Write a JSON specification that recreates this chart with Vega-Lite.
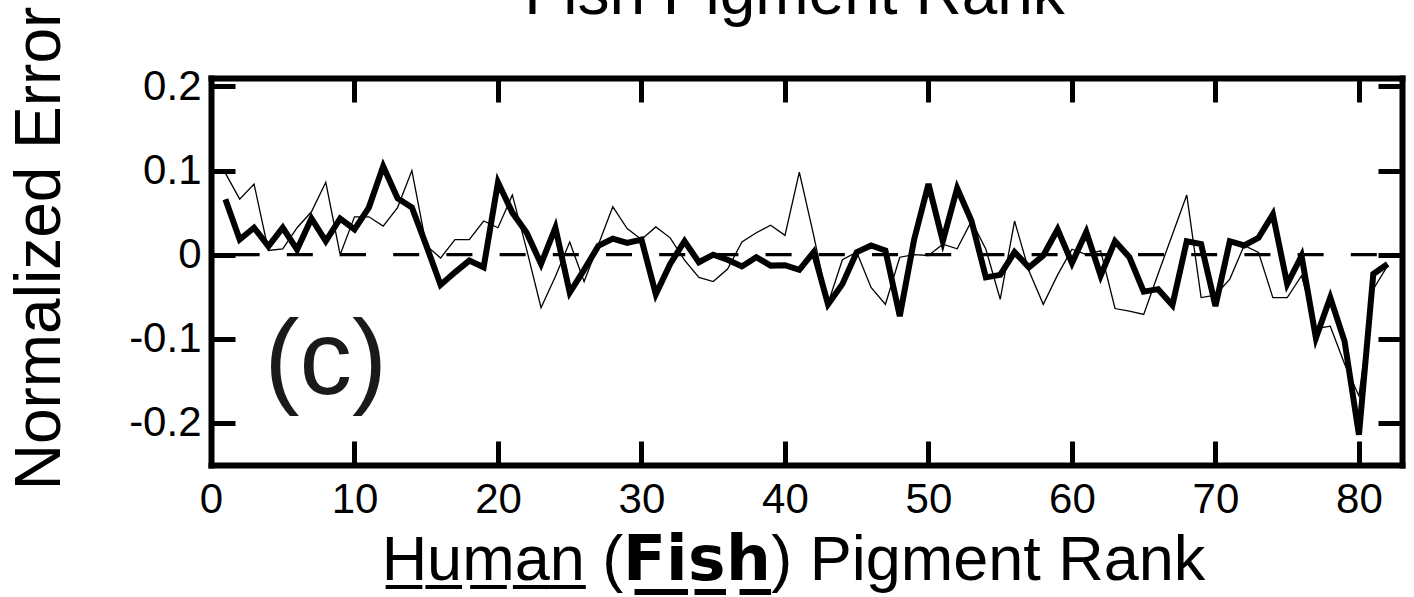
{
  "$schema": "https://vega.github.io/schema/vega-lite/v6.json",
  "width": 1191,
  "height": 387,
  "autosize": {"type": "none"},
  "padding": {"left": 211, "top": 78, "right": 12, "bottom": 132},
  "background": "white",
  "config": {
    "view": {"stroke": null},
    "font": "Liberation Sans",
    "axis": {
      "domainColor": "black", "domainWidth": 6, "domainCap": "square",
      "tickColor": "black", "tickWidth": 5, "tickSize": -24,
      "labelFontSize": 42, "labelColor": "black", "labelFont": "Liberation Sans",
      "labelFlush": false, "labelBound": false, "labelOverlap": false,
      "grid": false,
      "titleFont": "Liberation Sans", "titleFontWeight": "normal", "titleColor": "black"
    }
  },
  "title": {"text": "Fish Pigment Rank", "fontSize": 64, "fontWeight": "normal", "font": "Liberation Sans", "color": "black", "baseline": "alphabetic", "offset": 0, "dy": 72, "anchor": "middle", "dx": -12},
  "data": {"values": [
    {"rank": 1, "human": 0.097, "fish": 0.066},
    {"rank": 2, "human": 0.066, "fish": 0.018},
    {"rank": 3, "human": 0.084, "fish": 0.032},
    {"rank": 4, "human": 0.005, "fish": 0.010},
    {"rank": 5, "human": 0.007, "fish": 0.032},
    {"rank": 6, "human": 0.032, "fish": 0.006},
    {"rank": 7, "human": 0.051, "fish": 0.043},
    {"rank": 8, "human": 0.086, "fish": 0.016},
    {"rank": 9, "human": 0.000, "fish": 0.043},
    {"rank": 10, "human": 0.045, "fish": 0.030},
    {"rank": 11, "human": 0.045, "fish": 0.056},
    {"rank": 12, "human": 0.034, "fish": 0.105},
    {"rank": 13, "human": 0.056, "fish": 0.067},
    {"rank": 14, "human": 0.100, "fish": 0.056},
    {"rank": 15, "human": 0.011, "fish": 0.011},
    {"rank": 16, "human": -0.004, "fish": -0.036},
    {"rank": 17, "human": 0.018, "fish": -0.021},
    {"rank": 18, "human": 0.018, "fish": -0.007},
    {"rank": 19, "human": 0.040, "fish": -0.015},
    {"rank": 20, "human": 0.032, "fish": 0.086},
    {"rank": 21, "human": 0.071, "fish": 0.050},
    {"rank": 22, "human": 0.006, "fish": 0.026},
    {"rank": 23, "human": -0.063, "fish": -0.011},
    {"rank": 24, "human": -0.026, "fish": 0.032},
    {"rank": 25, "human": 0.015, "fish": -0.045},
    {"rank": 26, "human": -0.032, "fish": -0.018},
    {"rank": 27, "human": 0.012, "fish": 0.0105},
    {"rank": 28, "human": 0.057, "fish": 0.019},
    {"rank": 29, "human": 0.031, "fish": 0.014},
    {"rank": 30, "human": 0.018, "fish": 0.018},
    {"rank": 31, "human": 0.033, "fish": -0.047},
    {"rank": 32, "human": 0.020, "fish": -0.011},
    {"rank": 33, "human": -0.0065, "fish": 0.016},
    {"rank": 34, "human": -0.027, "fish": -0.009},
    {"rank": 35, "human": -0.032, "fish": 0.000},
    {"rank": 36, "human": -0.017, "fish": -0.006},
    {"rank": 37, "human": 0.015, "fish": -0.014},
    {"rank": 38, "human": 0.026, "fish": -0.003},
    {"rank": 39, "human": 0.035, "fish": -0.013},
    {"rank": 40, "human": 0.023, "fish": -0.0125},
    {"rank": 41, "human": 0.098, "fish": -0.018},
    {"rank": 42, "human": 0.023, "fish": 0.003},
    {"rank": 43, "human": -0.058, "fish": -0.059},
    {"rank": 44, "human": -0.006, "fish": -0.035},
    {"rank": 45, "human": 0.003, "fish": 0.003},
    {"rank": 46, "human": -0.039, "fish": 0.011},
    {"rank": 47, "human": -0.059, "fish": 0.005},
    {"rank": 48, "human": -0.003, "fish": -0.073},
    {"rank": 49, "human": 0.000, "fish": 0.018},
    {"rank": 50, "human": -0.001, "fish": 0.084},
    {"rank": 51, "human": 0.0125, "fish": 0.016},
    {"rank": 52, "human": 0.007, "fish": 0.079},
    {"rank": 53, "human": 0.040, "fish": 0.040},
    {"rank": 54, "human": 0.0065, "fish": -0.027},
    {"rank": 55, "human": -0.053, "fish": -0.024},
    {"rank": 56, "human": 0.040, "fish": 0.003},
    {"rank": 57, "human": -0.019, "fish": -0.015},
    {"rank": 58, "human": -0.059, "fish": -0.001},
    {"rank": 59, "human": -0.024, "fish": 0.030},
    {"rank": 60, "human": 0.0065, "fish": -0.010},
    {"rank": 61, "human": 0.000, "fish": 0.027},
    {"rank": 62, "human": 0.0045, "fish": -0.025},
    {"rank": 63, "human": -0.064, "fish": 0.016},
    {"rank": 64, "human": -0.067, "fish": -0.003},
    {"rank": 65, "human": -0.071, "fish": -0.044},
    {"rank": 66, "human": -0.023, "fish": -0.041},
    {"rank": 67, "human": 0.024, "fish": -0.060},
    {"rank": 68, "human": 0.071, "fish": 0.016},
    {"rank": 69, "human": -0.051, "fish": 0.0125},
    {"rank": 70, "human": -0.048, "fish": -0.061},
    {"rank": 71, "human": -0.029, "fish": 0.016},
    {"rank": 72, "human": 0.011, "fish": 0.011},
    {"rank": 73, "human": 0.0026, "fish": 0.020},
    {"rank": 74, "human": -0.051, "fish": 0.048},
    {"rank": 75, "human": -0.051, "fish": -0.035},
    {"rank": 76, "human": -0.025, "fish": -0.0015},
    {"rank": 77, "human": -0.088, "fish": -0.099},
    {"rank": 78, "human": -0.085, "fish": -0.051},
    {"rank": 79, "human": -0.130, "fish": -0.103},
    {"rank": 80, "human": -0.168, "fish": -0.214},
    {"rank": 81, "human": -0.041, "fish": -0.023},
    {"rank": 82, "human": -0.013, "fish": -0.011}
  ]},
  "layer": [
    {
      "data": {"values": [{"ref": 0}]},
      "mark": {"type": "rule", "color": "black", "strokeWidth": 3.3, "strokeDash": [26, 27.2], "strokeDashOffset": 28},
      "encoding": {
        "y": {"field": "ref", "type": "quantitative", "axis": null, "scale": {"domain": [-0.25, 0.21], "nice": false, "zero": false}}
      }
    },
    {
      "mark": {"type": "line", "color": "black", "strokeWidth": 1.3},
      "encoding": {
        "x": {"field": "rank", "type": "quantitative",
              "scale": {"domain": [0, 83], "nice": false, "zero": false},
              "axis": {"orient": "bottom", "values": [0, 10, 20, 30, 40, 50, 60, 70, 80], "labelPadding": 38,
                       "title": "H̲u̲m̲a̲n̲ (𝗙̲𝗶̲𝘀̲𝗵̲) Pigment Rank", "titleFontSize": 63,
                       "titleX": 582, "titleY": 114, "titleBaseline": "alphabetic", "titleAlign": "center", "titleAnchor": null}},
        "y": {"field": "human", "type": "quantitative",
              "scale": {"domain": [-0.25, 0.21], "nice": false, "zero": false},
              "axis": {"orient": "left", "values": [-0.2, -0.1, 0, 0.1, 0.2], "labelPadding": 34,
                       "labelExpr": "datum.value == 0 ? '0' : (datum.value < 0 ? '-' + format(-datum.value, '.1f') : format(datum.value, '.1f'))",
                       "title": "Normalized Error", "titleFontSize": 64, "titleAngle": -90,
                       "titleX": -152, "titleY": 170, "titleBaseline": "alphabetic", "titleAlign": "center"}}
      }
    },
    {
      "mark": {"type": "line", "color": "black", "strokeWidth": 6},
      "encoding": {
        "x": {"field": "rank", "type": "quantitative",
              "scale": {"domain": [0, 83], "nice": false, "zero": false},
              "axis": {"orient": "top", "values": [0, 10, 20, 30, 40, 50, 60, 70, 80], "labels": false, "title": null}},
        "y": {"field": "fish", "type": "quantitative",
              "scale": {"domain": [-0.25, 0.21], "nice": false, "zero": false},
              "axis": {"orient": "right", "values": [-0.2, -0.1, 0, 0.1, 0.2], "labels": false, "title": null}}
      }
    },
    {
      "data": {"values": [{"px": 8.0, "py": -0.166, "label": "(c)"}]},
      "mark": {"type": "text", "fontSize": 105, "font": "Liberation Sans", "color": "#1a1a1a", "align": "center", "baseline": "alphabetic"},
      "encoding": {
        "x": {"field": "px", "type": "quantitative", "axis": null, "scale": {"domain": [0, 83], "nice": false, "zero": false}},
        "y": {"field": "py", "type": "quantitative", "axis": null, "scale": {"domain": [-0.25, 0.21], "nice": false, "zero": false}},
        "text": {"field": "label"}
      }
    }
  ],
  "resolve": {"axis": {"x": "independent", "y": "independent"}}
}
